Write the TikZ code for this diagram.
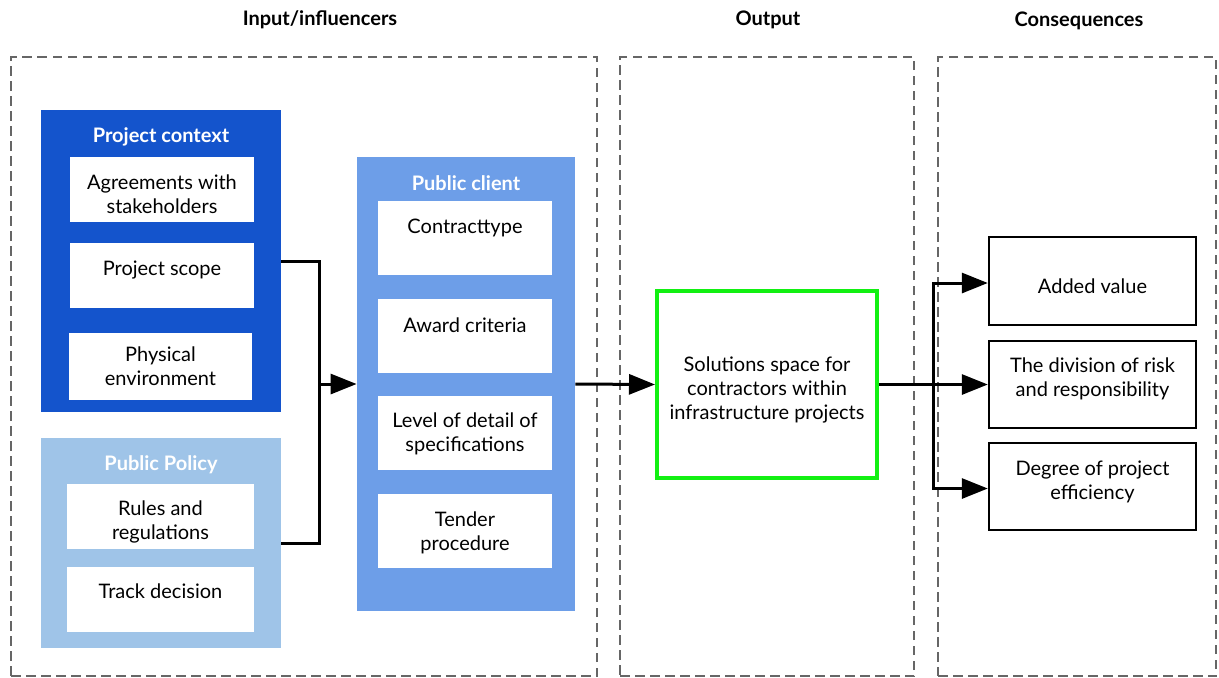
\documentclass[tikz,border=0pt]{standalone}
\usepackage{fontspec}
\setmainfont{Lato}
\usetikzlibrary{arrows.meta}

\definecolor{ctxblue}{HTML}{1454CC}
\definecolor{clientblue}{HTML}{6D9EE8}
\definecolor{policyblue}{HTML}{9FC4E8}
\definecolor{framegray}{HTML}{666666}
\definecolor{solgreen}{HTML}{12F012}

\tikzset{
    frame/.style={draw=framegray, line width=1.3pt, dash pattern=on 4.75pt off 2.75pt, minimum width=#1, minimum height=309.5pt, inner sep=0pt},
    panel/.style={fill=#1, inner sep=0pt},
    wbox/.style={fill=white, inner sep=0pt, align=center},
    cbox/.style={draw=black, line width=1.2pt, fill=white, inner sep=0pt, align=center, minimum width=103.5pt},
    head/.style={font=\fontsize{10}{12}\selectfont\bfseries},
    whead/.style={head, text=white},
    txt/.style={font=\fontsize{10}{12}\selectfont, align=center},
    link/.style={line width=1.5pt},
    arrow/.style={link, -{Triangle[length=13pt, width=10pt]}}
}

\begin{document}
\begin{tikzpicture}[x=0.5pt, y=-0.5pt, every node/.style={font=\fontsize{10}{12}\selectfont}]
    \useasboundingbox (0,0) rectangle (1219,677);

    % dashed frames and their titles
    \node[frame=293pt] (inframe) at (304,366.5) {};
    \node[frame=147pt] (outframe) at (767,366.5) {};
    \node[frame=139pt] (conframe) at (1077,366.5) {};
    \node[head] (intitle) at (320,20) {Input/influencers};
    \node[head] (outtitle) at (768,20) {Output};
    \node[head] (contitle) at (1079,21) {Consequences};

    % Project context
    \node[panel=ctxblue, minimum width=120pt, minimum height=151pt] (context) at (161,261) {};
    \node[whead] (contexttitle) at (161,137) {Project context};
    \node[wbox, minimum width=92pt, minimum height=32.5pt] (agree) at (162,189.5) {};
    \node[txt] (agreetext) at (162,194.5) {Agreements with\\stakeholders};
    \node[wbox, minimum width=92pt, minimum height=32.5pt] (scope) at (162,275.5) {};
    \node[txt] (scopetext) at (162,270) {Project scope};
    \node[wbox, minimum width=91.5pt, minimum height=33.5pt, txt] (phys) at (160.5,366) {Physical\\environment};

    % Public Policy
    \node[panel=policyblue, minimum width=120pt, minimum height=105pt] (policy) at (161,543) {};
    \node[whead] (policytitle) at (161,465) {Public Policy};
    \node[wbox, minimum width=93.5pt, minimum height=32.5pt] (rules) at (160.5,516.5) {};
    \node[txt] (rulestext) at (160.5,522) {Rules and\\regulations};
    \node[wbox, minimum width=93.5pt, minimum height=32.5pt] (track) at (160.5,599.5) {};
    \node[txt] (tracktext) at (160.5,591) {Track decision};

    % Public client
    \node[panel=clientblue, minimum width=109pt, minimum height=227pt] (client) at (466,384) {};
    \node[whead] (clienttitle) at (466,183) {Public client};
    \node[wbox, minimum width=87pt, minimum height=37pt] (ctype) at (465,238) {};
    \node[txt] (ctypetext) at (465,228) {Contracttype};
    \node[wbox, minimum width=87pt, minimum height=37pt] (award) at (465,336) {};
    \node[txt] (awardtext) at (465,325) {Award criteria};
    \node[wbox, minimum width=87pt, minimum height=37pt] (detail) at (465,433) {};
    \node[txt] (detailtext) at (465,434) {Level of detail of\\specifications};
    \node[wbox, minimum width=87pt, minimum height=37pt] (tender) at (465,531) {};
    \node[txt] (tendertext) at (465,532.5) {Tender\\procedure};

    % Output
    \node[draw=solgreen, line width=2pt, minimum width=110pt, minimum height=93.5pt] (space) at (767,384.5) {};
    \node[txt] (spacetext) at (767,389.5) {Solutions space for\\contractors within\\infrastructure projects};

    % Consequences
    \node[cbox, minimum height=44pt] (added) at (1092.5,281) {};
    \node[txt] (addedtext) at (1092.5,286) {Added value};
    \node[cbox, minimum height=43.5pt] (division) at (1092.5,384.5) {};
    \node[txt] (divisiontext) at (1092.5,379) {The division of risk\\and responsibility};
    \node[cbox, minimum height=43.5pt] (degree) at (1092.5,486.5) {};
    \node[txt] (degreetext) at (1092.5,482) {Degree of project\\efficiency};

    % connectors
    \coordinate (merge) at (319,384);
    \coordinate (split) at (933,384);
    \draw[link] (context.east) -| (merge) |- (policy.east);
    \draw[arrow] (merge) -- (client.west);
    \draw[arrow] (client.east) -- (space.west);
    \draw[arrow] (space.east) -- (division.west);
    \draw[arrow] (split) |- ([yshift=-1pt]added.west);
    \draw[arrow] (split) |- ([yshift=-1pt]degree.west);
\end{tikzpicture}
\end{document}
